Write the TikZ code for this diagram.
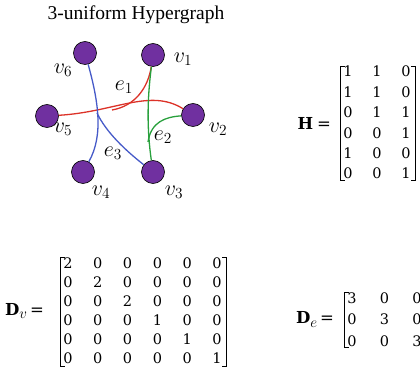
\RequirePackage{fix-cm}
\documentclass[tikz,border=0pt]{standalone}
\usepackage{fontspec}
\newfontfamily\titlefont{Liberation Serif}
\newfontfamily\digitfont{DejaVu Serif}
\usetikzlibrary{matrix,positioning}

\definecolor{hpurple}{RGB}{112,48,160}
\definecolor{ered}{RGB}{220,50,40}
\definecolor{egreen}{RGB}{40,160,60}
\definecolor{eblue}{RGB}{70,90,200}

\newcommand{\subv}[1]{\raisebox{-3.5pt}{\fontsize{15}{16}\selectfont$#1$}}

\tikzset{
  vert/.style={circle,draw=black,line width=0.6pt,fill=hpurple,minimum size=23pt,inner sep=0pt},
  hedge/.style={line width=1.3pt},
  vlabel/.style={font=\fontsize{22}{24}\selectfont,inner sep=0pt},
  mat/.style={matrix of nodes,inner sep=0pt,
    nodes={inner sep=0pt,text height=10pt,text depth=0pt,font=\digitfont\fontsize{14.5}{16}\selectfont}},
  matlabel/.style={font=\digitfont\fontsize{16.5}{18}\selectfont,inner sep=0pt},
  brk/.style={line width=1pt,line cap=rect}
}

\begin{document}
\begin{tikzpicture}[x=1pt,y=-1pt]
  \useasboundingbox (0,0) rectangle (420,379);
  \clip (0,0) rectangle (420,379);
  \node (title) [font=\titlefont\fontsize{19.5}{22}\selectfont] at (136,15) {3-uniform Hypergraph};
  % vertices
  \node[vert] (v1) at (153,55) {};
  \node[vert] (v2) at (193,115) {};
  \node[vert] (v3) at (153,172) {};
  \node[vert] (v4) at (83,172) {};
  \node[vert] (v5) at (47,116) {};
  \node[vert] (v6) at (85,53) {};
  \coordinate (j1) at (112,110);
  \coordinate (j2) at (148,142);
  \coordinate (j3) at (97,113);
  % hyperedges
  \draw[hedge,ered] (v5) .. controls (115,112) and (150,88) .. (v2);
  \draw[hedge,ered] (v1) .. controls (148,88) and (135,106) .. (j1);
  \draw[hedge,egreen] (v1) .. controls (147,100) and (147,130) .. (v3);
  \draw[hedge,egreen] (v2) .. controls (165,117) and (151,122) .. (j2);
  \draw[hedge,eblue] (v6) .. controls (98,100) and (104,135) .. (v4);
  \draw[hedge,eblue] (j3) .. controls (106,132) and (125,150) .. (v3);
  % labels
  \node[vlabel] (l1) at (183,59) {$v_1$};
  \node[vlabel] (l2) at (218,129) {$v_2$};
  \node[vlabel] (l3) at (174,192) {$v_3$};
  \node[vlabel] (l4) at (101,192) {$v_4$};
  \node[vlabel] (l5) at (63,129) {$v_5$};
  \node[vlabel] (l6) at (63,70) {$v_6$};
  \node[vlabel] (le1) at (124,87) {$e_1$};
  \node[vlabel] (le2) at (163,137) {$e_2$};
  \node[vlabel] (le3) at (113,153) {$e_3$};
  % incidence matrix
  \matrix (H) [mat,column sep=19.8pt,row sep=10.4pt] at (377,123) {
    1 & 1 & 0 \\
    1 & 1 & 0 \\
    0 & 1 & 1 \\
    0 & 0 & 1 \\
    1 & 0 & 0 \\
    0 & 0 & 1 \\
  };
  \draw[brk] ([xshift=1.5pt]H.north west) -- ([xshift=-2.5pt]H.north west)
    -- ([xshift=-2.5pt,yshift=-1pt]H.south west) -- ([xshift=1.5pt,yshift=-1pt]H.south west);
  \draw[brk] ([xshift=1pt]H.north east) -- ([xshift=5pt]H.north east)
    -- ([xshift=5pt,yshift=-1pt]H.south east) -- ([xshift=1pt,yshift=-1pt]H.south east);
  \node[matlabel] (Hlab) [left=12pt of H] {\textbf{H}\kern4pt=};
  % vertex degrees
  \matrix (Dv) [mat,column sep=20.6pt,row sep=9pt] at (142.5,311) {
    2 & 0 & 0 & 0 & 0 & 0 \\
    0 & 2 & 0 & 0 & 0 & 0 \\
    0 & 0 & 2 & 0 & 0 & 0 \\
    0 & 0 & 0 & 1 & 0 & 0 \\
    0 & 0 & 0 & 0 & 1 & 0 \\
    0 & 0 & 0 & 0 & 0 & 1 \\
  };
  \draw[brk] ([xshift=1.5pt,yshift=1pt]Dv.north west) -- ([xshift=-3pt,yshift=1pt]Dv.north west)
    -- ([xshift=-3pt,yshift=-2.5pt]Dv.south west) -- ([xshift=1.5pt,yshift=-2.5pt]Dv.south west);
  \draw[brk] ([xshift=0.5pt,yshift=1pt]Dv.north east) -- ([xshift=4.5pt,yshift=1pt]Dv.north east)
    -- ([xshift=4.5pt,yshift=-2.5pt]Dv.south east) -- ([xshift=0.5pt,yshift=-2.5pt]Dv.south east);
  \node[matlabel] (Dvlab) [left=19pt of Dv] {\textbf{D}\subv{v}\kern3pt=};
  % edge degrees
  \matrix (De) [mat,column sep=23.3pt,row sep=11.5pt] at (384.5,319.5) {
    3 & 0 & 0 \\
    0 & 3 & 0 \\
    0 & 0 & 3 \\
  };
  \draw[brk] ([xshift=1.5pt]De.north west) -- ([xshift=-3pt]De.north west)
    -- ([xshift=-3pt,yshift=-1pt]De.south west) -- ([xshift=1.5pt,yshift=-1pt]De.south west);
  \draw[brk] ([xshift=0.5pt]De.north east) -- ([xshift=4.5pt]De.north east)
    -- ([xshift=4.5pt,yshift=-1pt]De.south east) -- ([xshift=0.5pt,yshift=-1pt]De.south east);
  \node[matlabel] (Delab) [left=13pt of De] {\textbf{D}\subv{e}\kern3pt=};
\end{tikzpicture}
\end{document}
